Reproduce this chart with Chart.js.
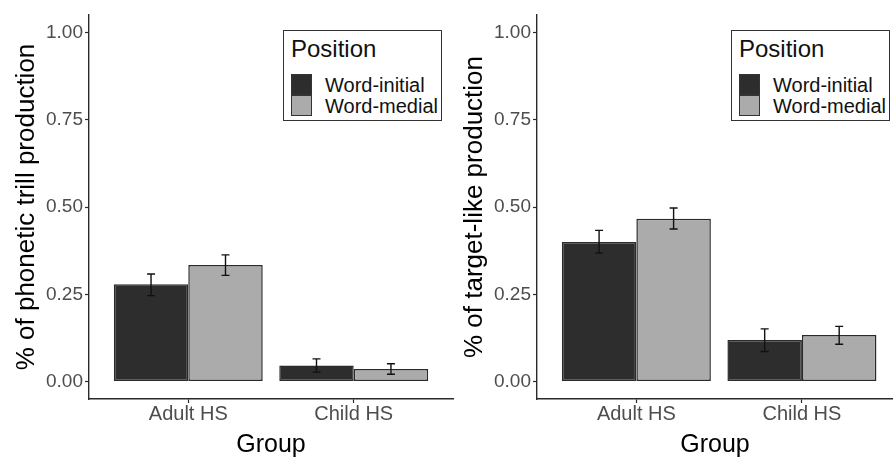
<!DOCTYPE html>
<html>
<head>
<meta charset="utf-8">
<script src="https://cdn.jsdelivr.net/npm/chart.js@4.4.1/dist/chart.umd.min.js"></script>
<style>
    body { margin: 0; background: #fff; width: 893px; height: 459px; overflow: hidden; position: relative; font-family: "Liberation Sans", Arial, sans-serif; }
    .panel { position: absolute; top: 0; height: 459px; }
    .panel canvas { display: block; }
    .legend { position: absolute; left: 283px; top: 30px; width: 157px; height: 89px; border: 1.5px solid #333; background: #fff; }
    .legend .title { position: absolute; left: 7px; top: 6px; font-size: 24px; line-height: 24px; color: #111; }
    .legend .row { position: absolute; left: 7px; height: 21px; display: flex; align-items: center; }
    .legend .swatch { width: 19px; height: 19px; border: 1px solid #333; }
    .legend .lbl { margin-left: 13px; font-size: 20px; line-height: 21px; padding-top: 2px; color: #111; }
</style>
</head>
<body>
<div class="panel" id="Panel-1" style="left:0; width:456px;"><canvas id="Chart-trill"></canvas><div class="legend" id="Legend-1"></div></div>
<div class="panel" id="Panel-2" style="left:448px; width:445px;"><canvas id="Chart-target"></canvas><div class="legend" id="Legend-2"></div></div>
<script>
const GROUPS = ["Adult HS", "Child HS"]
const POSITIONS = ["Word-initial", "Word-medial"]
const COLORS = ["#2d2d2d", "#ababab"]
const Y_TICKS = [0, 0.25, 0.5, 0.75, 1]

// left panel: phonetic trill
const TRILL_INITIAL = [0.279, 0.046]
const TRILL_INITIAL_LO = [0.246, 0.027]
const TRILL_INITIAL_HI = [0.308, 0.065]
const TRILL_MEDIAL = [0.334, 0.036]
const TRILL_MEDIAL_LO = [0.304, 0.021]
const TRILL_MEDIAL_HI = [0.363, 0.051]

// right panel: target-like
const TARGET_INITIAL = [0.400, 0.119]
const TARGET_INITIAL_LO = [0.368, 0.086]
const TARGET_INITIAL_HI = [0.433, 0.151]
const TARGET_MEDIAL = [0.466, 0.133]
const TARGET_MEDIAL_LO = [0.437, 0.107]
const TARGET_MEDIAL_HI = [0.497, 0.158]

const TICK_COLOR = "#4d4d4d"
const AXIS_COLOR = "#2a2a2a"

function puntos(valores) {
    return valores.map((v, i) => ({ x: i + 1, y: v }))
}

// error bars drawn from the y scale
const errorBars = {
    id: "errorBars",
    afterDatasetsDraw(chart) {
        const ctx = chart.ctx
        const y = chart.scales.y
        ctx.save()
        ctx.strokeStyle = "#111"
        ctx.lineWidth = 1.4
        chart.data.datasets.forEach((ds, i) => {
            const meta = chart.getDatasetMeta(i)
            meta.data.forEach((bar, j) => {
                const top = y.getPixelForValue(ds.hi[j])
                const bot = y.getPixelForValue(ds.lo[j])
                ctx.beginPath()
                ctx.moveTo(bar.x, top); ctx.lineTo(bar.x, bot)
                ctx.moveTo(bar.x - 4, top); ctx.lineTo(bar.x + 4, top)
                ctx.moveTo(bar.x - 4, bot); ctx.lineTo(bar.x + 4, bot)
                ctx.stroke()
            })
        })
        ctx.restore()
    }
}

function makeChart(canvasId, legendId, yTitle, series, xMax, padRight) {
    const ctx = document.getElementById(canvasId).getContext("2d")
    const chart = new Chart(ctx, {
        type: "bar",
        data: {
            datasets: series.map((s, i) => ({
                label: POSITIONS[i],
                data: puntos(s.values),
                lo: s.lo,
                hi: s.hi,
                backgroundColor: COLORS[i],
                borderColor: AXIS_COLOR,
                borderWidth: 1.5,
                borderSkipped: false,
                categoryPercentage: 0.9,
                barPercentage: 1
            }))
        },
        options: {
            responsive: true,
            maintainAspectRatio: false,
            animation: false,
            layout: { padding: { top: 15, right: padRight, left: 0, bottom: 0 } },
            plugins: { legend: { display: false }, tooltip: { enabled: false } },
            scales: {
                x: {
                    type: "linear",
                    min: 0.4,
                    max: xMax,
                    offset: false,
                    afterBuildTicks: (scale) => { scale.ticks = GROUPS.map((g, i) => ({ value: i + 1 })) },
                    afterFit: (scale) => { scale.height = 60 },
                    grid: { display: true, drawOnChartArea: false, offset: false, tickLength: 4, tickColor: AXIS_COLOR, tickWidth: 1.2 },
                    border: { display: true, color: AXIS_COLOR, width: 1.4 },
                    ticks: {
                        color: TICK_COLOR,
                        font: { family: "Liberation Sans", size: 20, lineHeight: 1 },
                        padding: 1,
                        maxRotation: 0,
                        callback: (v) => GROUPS[v - 1]
                    },
                    title: {
                        display: true,
                        text: "Group",
                        color: "#000",
                        font: { family: "Liberation Sans", size: 25, lineHeight: 1 },
                        padding: { top: 0, bottom: 1 }
                    }
                },
                y: {
                    min: -0.05,
                    max: 1.05,
                    afterBuildTicks: (scale) => { scale.ticks = Y_TICKS.map(v => ({ value: v })) },
                    afterFit: (scale) => { scale.width = 89 },
                    grid: { display: true, drawOnChartArea: false, tickLength: 4, tickColor: AXIS_COLOR, tickWidth: 1.2 },
                    border: { display: true, color: AXIS_COLOR, width: 1.4 },
                    ticks: {
                        color: TICK_COLOR,
                        font: { family: "Liberation Sans", size: 19 },
                        padding: 2,
                        callback: (v) => v.toFixed(2)
                    },
                    title: {
                        display: true,
                        text: yTitle,
                        color: "#000",
                        font: { family: "Liberation Sans", size: 26, lineHeight: 1 },
                        padding: { top: 14, bottom: 0 }
                    }
                }
            }
        },
        plugins: [errorBars]
    })

    // html legend from the datasets
    const el = document.getElementById(legendId)
    let html = '<div class="title">Position</div>'
    chart.data.datasets.forEach((ds, i) => {
        html += `<div class="row" style="top:${43 + i * 21}px"><div class="swatch" style="background:${ds.backgroundColor}"></div><span class="lbl">${ds.label}</span></div>`
    })
    el.innerHTML = html
    return chart
}

makeChart("Chart-trill", "Legend-1", "% of phonetic trill production", [
    { values: TRILL_INITIAL, lo: TRILL_INITIAL_LO, hi: TRILL_INITIAL_HI },
    { values: TRILL_MEDIAL, lo: TRILL_MEDIAL_LO, hi: TRILL_MEDIAL_HI }
], 2.6, 3)

makeChart("Chart-target", "Legend-2", "% of target-like production", [
    { values: TARGET_INITIAL, lo: TARGET_INITIAL_LO, hi: TARGET_INITIAL_HI },
    { values: TARGET_MEDIAL, lo: TARGET_MEDIAL_LO, hi: TARGET_MEDIAL_HI }
], 2.55, 0)
</script>
</body>
</html>
